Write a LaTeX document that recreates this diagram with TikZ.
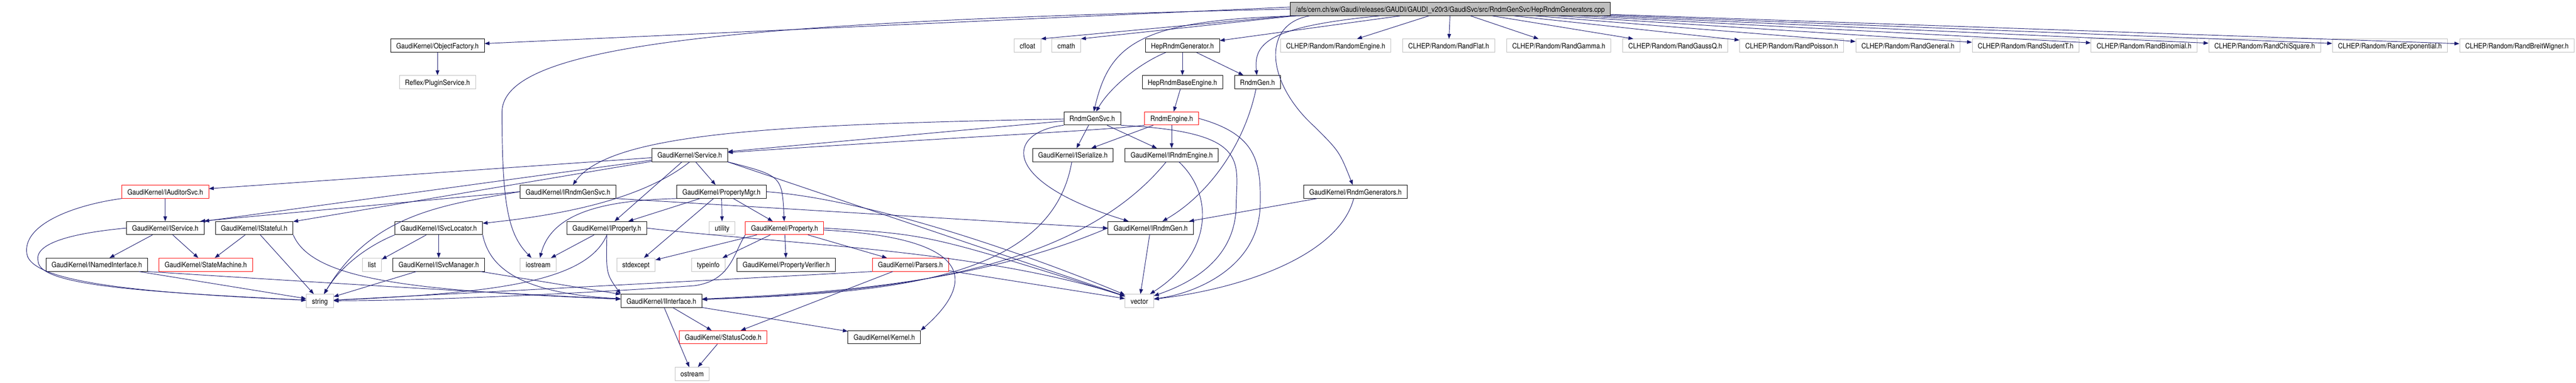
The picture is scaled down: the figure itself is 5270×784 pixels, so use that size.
\documentclass[tikz,border=0pt]{standalone}
\usepackage{fontspec}
\setmainfont{TeX Gyre Heros}[FakeStretch=0.88]
\usetikzlibrary{arrows.meta}
\definecolor{edgeblue}{HTML}{191970}
\definecolor{extgrey}{HTML}{BFBFBF}
\tikzset{
  file/.style={draw=black, line width=1pt, inner xsep=11.5pt, inner ysep=0pt,
    minimum height=27pt, text height=12pt, text depth=0pt,
    font=\fontsize{15}{18}\selectfont},
  extfile/.style={file, draw=extgrey},
  cutfile/.style={file, draw=red},
  rootfile/.style={file, fill=extgrey},
  dep/.style={->, draw=edgeblue, line width=1pt},
}
\begin{document}
\begin{tikzpicture}[x=1pt, y=-1pt, >={Triangle[length=10pt,width=7.5pt]}]
  \useasboundingbox (0,0) rectangle (5270,784);

  \node[rootfile] (root) at (2967,18.5) {/afs/cern.ch/sw/Gaudi/releases/GAUDI/GAUDI\_v20r3/GaudiSvc/src/RndmGenSvc/HepRndmGenerators.cpp};

  % row 1
  \node[file] (objfact) at (895,93.5) {GaudiKernel/ObjectFactory.h};
  \node[extfile] (cfloat) at (2102,93.5) {cfloat};
  \node[extfile] (cmath) at (2181.5,93.5) {cmath};
  \node[file] (heprndmgen) at (2419,93.5) {HepRndmGenerator.h};
  \node[extfile] (randomengine) at (2732.5,93.5) {CLHEP/Random/RandomEngine.h};
  \node[extfile] (randflat) at (2963.75,93.5) {CLHEP/Random/RandFlat.h};
  \node[extfile] (randgamma) at (3189,93.5) {CLHEP/Random/RandGamma.h};
  \node[extfile] (randgaussq) at (3427.25,93.5) {CLHEP/Random/RandGaussQ.h};
  \node[extfile] (randpoisson) at (3665.5,93.5) {CLHEP/Random/RandPoisson.h};
  \node[extfile] (randgeneral) at (3903.25,93.5) {CLHEP/Random/RandGeneral.h};
  \node[extfile] (randstudentt) at (4144,93.5) {CLHEP/Random/RandStudentT.h};
  \node[extfile] (randbinomial) at (4386.25,93.5) {CLHEP/Random/RandBinomial.h};
  \node[extfile] (randchisquare) at (4633,93.5) {CLHEP/Random/RandChiSquare.h};
  \node[extfile] (randexponential) at (4889.25,93.5) {CLHEP/Random/RandExponential.h};
  \node[extfile] (randbreitwigner) at (5149,93.5) {CLHEP/Random/RandBreitWigner.h};

  % row 2 and 3
  \node[extfile] (plugin) at (895,168) {Reflex/PluginService.h};
  \node[file] (heprndmbase) at (2419,168) {HepRndmBaseEngine.h};
  \node[file] (rndmgen) at (2572.5,168) {RndmGen.h};
  \node[file] (rndmgensvc) at (2234.5,242.5) {RndmGenSvc.h};
  \node[cutfile] (rndmengine) at (2397,242.5) {RndmEngine.h};

  % row 4 and 5
  \node[file] (service) at (1411,317.5) {GaudiKernel/Service.h};
  \node[file] (iserialize) at (2195,317.5) {GaudiKernel/ISerialize.h};
  \node[file] (irndmengine) at (2397,317.5) {GaudiKernel/IRndmEngine.h};
  \node[cutfile] (iauditor) at (338,392.5) {GaudiKernel/IAuditorSvc.h};
  \node[file] (irndmgensvc) at (1162,392.5) {GaudiKernel/IRndmGenSvc.h};
  \node[file] (propmgr) at (1476,392.5) {GaudiKernel/PropertyMgr.h};
  \node[file] (rndmgens) at (2773,392.5) {GaudiKernel/RndmGenerators.h};

  % row 6
  \node[file] (iservice) at (338,467) {GaudiKernel/IService.h};
  \node[file] (istateful) at (520,467) {GaudiKernel/IStateful.h};
  \node[file] (isvclocator) at (897.5,467) {GaudiKernel/ISvcLocator.h};
  \node[file] (iproperty) at (1241.5,467) {GaudiKernel/IProperty.h};
  \node[extfile] (utility) at (1477.4,467) {utility};
  \node[cutfile] (property) at (1605,467) {GaudiKernel/Property.h};
  \node[file] (irndmgen) at (2354,467) {GaudiKernel/IRndmGen.h};

  % row 7
  \node[file] (inamed) at (198,542) {GaudiKernel/INamedInterface.h};
  \node[cutfile] (statemachine) at (421,542) {GaudiKernel/StateMachine.h};
  \node[extfile] (list) at (761,542) {list};
  \node[file] (isvcmgr) at (897.5,542) {GaudiKernel/ISvcManager.h};
  \node[extfile] (iostream) at (1101,542) {iostream};
  \node[extfile] (stdexcept) at (1301,542) {stdexcept};
  \node[extfile] (typeinfo) at (1449,542) {typeinfo};
  \node[file] (propverifier) at (1608.5,542) {GaudiKernel/PropertyVerifier.h};
  \node[cutfile] (parsers) at (1862.5,542) {GaudiKernel/Parsers.h};

  % rows 8 to 10
  \node[extfile] (string) at (654.5,616) {string};
  \node[file] (iinterface) at (1353,616) {GaudiKernel/IInterface.h};
  \node[extfile] (vector) at (2331,616) {vector};
  \node[cutfile] (statuscode) at (1479.5,690.5) {GaudiKernel/StatusCode.h};
  \node[file] (kernel) at (1809,690.5) {GaudiKernel/Kernel.h};
  \node[extfile] (ostream) at (1416,765.5) {ostream};

  % from the source file
  \draw[dep] ([yshift=4pt]root.west) -- (objfact);
  \draw[dep] (root.west) .. controls (1500,45) and (1027,90) .. (1027,230)
    .. controls (1027,420) and (1040,480) .. (iostream);
  \draw[dep] (root.south west) -- (cfloat.north east);
  \draw[dep] ([xshift=10pt]root.south west) -- (cmath.north east);
  \draw[dep] ([xshift=20pt]root.south west) .. controls (2330,40) and (2270,90) .. (rndmgensvc);
  \draw[dep] (root) -- (heprndmgen);
  \draw[dep] (root) .. controls (2590,55) and (2565,90) .. (rndmgen);
  \draw[dep] ([xshift=40pt]root.south west) .. controls (2580,50) and (2590,170) .. (2690,260)
    .. controls (2740,310) .. (rndmgens);
  \draw[dep] (root) -- (randomengine);
  \draw[dep] (root) -- (randflat);
  \draw[dep] (root) -- (randgamma);
  \draw[dep] (root) -- (randgaussq);
  \draw[dep] (root) -- (randpoisson);
  \draw[dep] (root) -- (randgeneral);
  \draw[dep] (root) -- (randstudentt);
  \draw[dep] (root) -- (randbinomial);
  \draw[dep] (root) -- (randchisquare);
  \draw[dep] (root) -- (randexponential);
  \draw[dep] (root) -- (randbreitwigner);

  \draw[dep] (objfact) -- (plugin);
  \draw[dep] (heprndmgen) .. controls (2330,130) and (2270,180) .. (rndmgensvc);
  \draw[dep] (heprndmgen) -- (heprndmbase);
  \draw[dep] (heprndmgen) -- (rndmgen);
  \draw[dep] (heprndmbase) -- (rndmengine);
  \draw[dep] (rndmgen) .. controls (2545,300) and (2470,400) .. (irndmgen);

  % the service and the engine
  \draw[dep] (rndmgensvc) -- (service);
  \draw[dep] (rndmgensvc) .. controls (1600,255) and (1250,270) .. (irndmgensvc);
  \draw[dep] (rndmgensvc) -- (iserialize);
  \draw[dep] (rndmgensvc) -- (irndmengine);
  \draw[dep] (rndmgensvc.south east) .. controls (2560,270) and (2530,330) .. (2529,420)
    .. controls (2528,540) and (2420,585) .. (vector);
  \draw[dep] (rndmgensvc.south west) .. controls (2060,270) and (2040,370) .. (irndmgen);
  \draw[dep] (rndmengine.south west) .. controls (2250,268) and (2000,278) .. (service);
  \draw[dep] (rndmengine) -- (iserialize);
  \draw[dep] (rndmengine) -- (irndmengine);
  \draw[dep] (rndmengine.east) .. controls (2570,275) and (2580,330) .. (2578,420)
    .. controls (2576,545) and (2450,600) .. (vector);
  \draw[dep] (iserialize) .. controls (2150,580) and (1800,600) .. (iinterface);
  \draw[dep] (irndmengine) .. controls (2200,560) and (1800,600) .. (iinterface);
  \draw[dep] (irndmengine) .. controls (2485,400) and (2480,520) .. (vector);
  \draw[dep] (irndmgen.west) .. controls (2000,580) and (1700,600) .. (iinterface);
  \draw[dep] (irndmgen) -- (vector);
  \draw[dep] (rndmgens) -- (irndmgen);
  \draw[dep] (rndmgens) .. controls (2740,520) and (2550,590) .. (vector);

  % GaudiKernel/Service.h
  \draw[dep] (service) -- (iauditor);
  \draw[dep] (service) -- (iservice.north east);
  \draw[dep] (service) -- (istateful);
  \draw[dep] (service.south) .. controls (1300,420) and (1100,445) .. (isvclocator);
  \draw[dep] (service) -- (iproperty);
  \draw[dep] (service) -- (propmgr);
  \draw[dep] (service.south east) .. controls (1600,360) .. (property);
  \draw[dep] (service.south east) -- (vector);

  \draw[dep] (irndmgensvc.west) -- ([xshift=-8pt]iservice.north east);
  \draw[dep] (irndmgensvc.south east) -- (irndmgen.west);
  \draw[dep] (irndmgensvc.west) .. controls (900,420) and (760,440) .. (string);

  \draw[dep] (propmgr) -- (iproperty);
  \draw[dep] (propmgr) -- (utility);
  \draw[dep] (propmgr) -- (property);
  \draw[dep] (propmgr) -- (stdexcept);
  \draw[dep] (propmgr.south west) .. controls (1250,410) and (1130,430) .. (iostream);
  \draw[dep] (propmgr.east) .. controls (1800,410) and (2150,540) .. (vector);

  % properties
  \draw[dep] (property) -- (propverifier);
  \draw[dep] (property) -- (parsers);
  \draw[dep] (property) -- (stdexcept);
  \draw[dep] (property) -- (typeinfo);
  \draw[dep] (property.south west) .. controls (1500,520) and (1495,575) .. (1420,585)
    .. controls (1200,600) and (900,615) .. (string);
  \draw[dep] (property.east) .. controls (1900,480) .. (vector);
  \draw[dep] ([yshift=-4pt]property.east) .. controls (2050,490) and (1960,610) .. (kernel.north east);
  \draw[dep] (parsers) -- (statuscode);
  \draw[dep] (parsers) -- (vector);
  \draw[dep] (parsers.south west) -- (string);
  \draw[dep] (iproperty) -- (iostream);
  \draw[dep] (iproperty.south) .. controls (1200,580) and (1000,600) .. (string);
  \draw[dep] (iproperty.south) .. controls (1240,560) .. (iinterface.north west);
  \draw[dep] (iproperty.east) .. controls (1600,500) and (2000,510) .. (vector);

  % interfaces
  \draw[dep] (istateful) -- (statemachine);
  \draw[dep] (istateful) -- (string);
  \draw[dep] (istateful.south east) .. controls (640,575) and (850,595) .. (iinterface);
  \draw[dep] (iservice) -- (inamed);
  \draw[dep] (iservice) -- (statemachine);
  \draw[dep] (iservice.west) .. controls (120,480) and (70,505) .. (78,535)
    .. controls (80,585) and (300,598) .. (string);
  \draw[dep] (iauditor) -- (iservice);
  \draw[dep] (iauditor.south west) .. controls (150,420) and (45,460) .. (55,520)
    .. controls (65,580) and (300,600) .. (string);
  \draw[dep] (isvclocator) -- (list);
  \draw[dep] (isvclocator) -- (isvcmgr);
  \draw[dep] (isvclocator.south west) .. controls (760,500) and (700,540) .. (string);
  \draw[dep] (isvclocator.south east) .. controls (1000,540) and (1050,600) .. (iinterface);
  \draw[dep] (isvcmgr) -- (string);
  \draw[dep] (isvcmgr) -- (iinterface);
  \draw[dep] (inamed) -- (string);
  \draw[dep] (inamed.south east) .. controls (600,575) and (1000,600) .. (iinterface);

  \draw[dep] (iinterface) -- (ostream);
  \draw[dep] (iinterface) -- (statuscode);
  \draw[dep] (iinterface) -- (kernel);
  \draw[dep] (statuscode) -- (ostream);
\end{tikzpicture}
\end{document}
